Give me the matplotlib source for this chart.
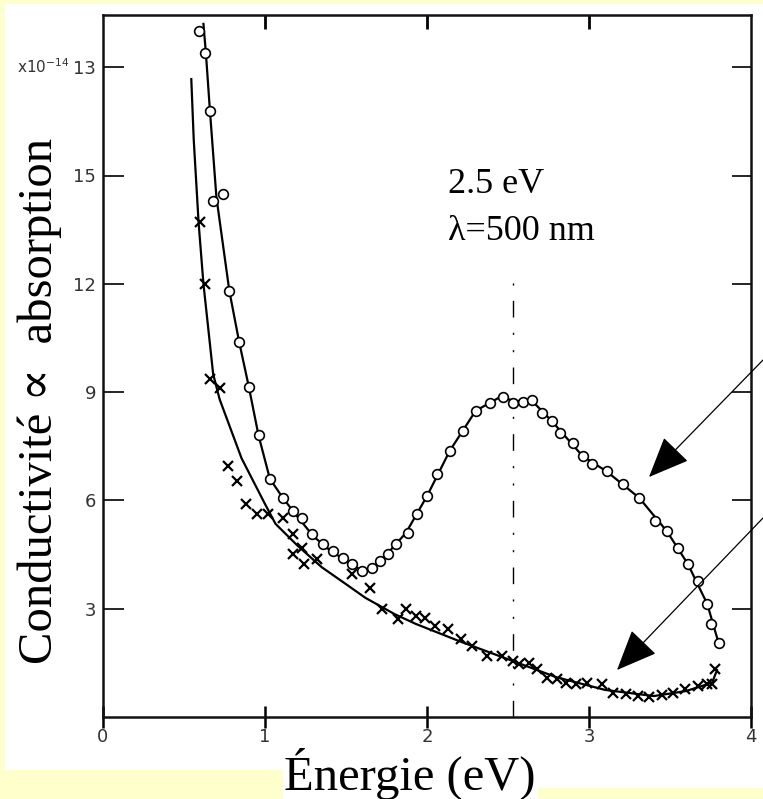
import matplotlib
matplotlib.use("Agg")
import matplotlib.pyplot as plt
from matplotlib.patches import Rectangle, FancyArrowPatch

# ---------------- data ----------------
# open-circle series (markers)
circ_x = [0.59, 0.63, 0.66, 0.68, 0.74, 0.78, 0.84, 0.90, 0.96, 1.03, 1.11, 1.17, 1.23,
          1.29, 1.36, 1.42, 1.48, 1.54, 1.60, 1.66, 1.71, 1.76, 1.81, 1.88, 1.94, 2.00,
          2.06, 2.14, 2.22, 2.30, 2.39, 2.47, 2.53, 2.59, 2.65, 2.71, 2.77, 2.82, 2.90,
          2.96, 3.02, 3.11, 3.21, 3.31, 3.41, 3.48, 3.55, 3.61, 3.67, 3.73, 3.75, 3.80]
circ_y = [19.0, 18.4, 16.8, 14.3, 14.5, 11.8, 10.4, 9.15, 7.8, 6.6, 6.07, 5.71, 5.51,
          5.07, 4.79, 4.60, 4.40, 4.24, 4.04, 4.13, 4.32, 4.52, 4.79, 5.10, 5.62, 6.12,
          6.73, 7.37, 7.92, 8.48, 8.70, 8.86, 8.70, 8.73, 8.78, 8.42, 8.20, 7.87, 7.59,
          7.23, 7.01, 6.81, 6.45, 6.07, 5.43, 5.15, 4.68, 4.24, 3.77, 3.13, 2.58, 2.05]
# guide curve drawn through the circles
circ_curve_x = [0.62, 0.635, 0.66, 0.70, 0.78, 0.84, 0.90, 0.96, 1.03, 1.11, 1.20, 1.30,
                1.40, 1.50, 1.60, 1.66, 1.75, 1.87, 2.00, 2.14, 2.30, 2.45, 2.55, 2.65,
                2.77, 2.96, 3.11, 3.31, 3.48, 3.61, 3.73, 3.80]
circ_curve_y = [19.2, 18.4, 16.8, 14.4, 11.8, 10.4, 9.15, 7.8, 6.6, 6.07, 5.55, 5.0,
                4.62, 4.33, 4.05, 4.1, 4.5, 5.1, 6.12, 7.37, 8.48, 8.86, 8.75, 8.75,
                8.2, 7.23, 6.8, 6.07, 5.15, 4.24, 3.13, 2.05]

# cross series (markers)
cross_x = [0.60, 0.63, 0.66, 0.72, 0.77, 0.83, 0.88, 0.95, 1.02, 1.11, 1.17, 1.23, 1.17,
           1.24, 1.32, 1.54, 1.65, 1.72, 1.82, 1.87, 1.93, 1.99, 2.05, 2.13, 2.21, 2.28,
           2.37, 2.46, 2.53, 2.57, 2.63, 2.68, 2.74, 2.80, 2.86, 2.92, 2.99, 3.08, 3.15,
           3.23, 3.30, 3.37, 3.45, 3.52, 3.59, 3.67, 3.73, 3.76, 3.78]
cross_y = [13.7, 12.0, 9.36, 9.11, 6.95, 6.54, 5.90, 5.62, 5.62, 5.51, 5.07, 4.68, 4.52,
           4.24, 4.38, 3.96, 3.57, 2.99, 2.71, 2.99, 2.80, 2.74, 2.52, 2.44, 2.16, 1.97,
           1.69, 1.69, 1.55, 1.47, 1.50, 1.33, 1.08, 1.05, 0.94, 0.91, 0.94, 0.91, 0.66,
           0.64, 0.58, 0.55, 0.61, 0.66, 0.78, 0.86, 0.91, 0.91, 1.33]
# guide curve drawn through the crosses
cross_curve_x = [0.545, 0.56, 0.59, 0.62, 0.68, 0.72, 0.855, 1.0, 1.065, 1.2, 1.35, 1.50,
                 1.62, 1.80, 1.93, 2.20, 2.50, 2.80, 3.10, 3.40, 3.60, 3.76, 3.79]
cross_curve_y = [17.67, 16.0, 13.7, 12.0, 9.5, 8.8, 7.17, 5.9, 5.35, 4.75, 4.15, 3.68,
                 3.30, 2.85, 2.58, 2.10, 1.60, 1.10, 0.75, 0.58, 0.72, 0.95, 1.30]

xticks = [0, 1, 2, 3, 4]
xtick_labels = ["0", "1", "2", "3", "4"]
yticks = [3, 6, 9, 12, 15, 18]
ytick_labels = ["3", "6", "9", "12", "15", "13"]
peak_energy = 2.53
peak_line_top = 12.3

# ---------------- figure ----------------
W, H = 763, 799
fig = plt.figure(figsize=(W / 100, H / 100), dpi=100)
fig.patch.set_facecolor("#FFFFCC")


def fig_rect(x0, y0, x1, y1, color="white"):
    fig.patches.append(Rectangle((x0 / W, 1 - y1 / H), (x1 - x0) / W, (y1 - y0) / H,
                                 transform=fig.transFigure, facecolor=color,
                                 edgecolor="none", zorder=-10))


fig_rect(5, 4, 763, 770)
fig_rect(283, 769, 763, 788)
fig_rect(283, 787, 538, 799)

ax_l, ax_r, ax_t, ax_b = 103, 751, 15, 717
ax = fig.add_axes([ax_l / W, 1 - ax_b / H, (ax_r - ax_l) / W, (ax_b - ax_t) / H])
ax.set_facecolor("none")
ax.set_xlim(0, 4)
ax.set_ylim(0, (ax_b - ax_t) / 36.1)

for s in ax.spines.values():
    s.set_linewidth(1.8)
    s.set_color("#111111")

# curves and markers
ax.plot(circ_curve_x, circ_curve_y, color="black", lw=1.6, zorder=3, clip_on=False)
ax.plot(circ_x, circ_y, ls="none", marker="o", ms=7, mfc="white", mec="black",
        mew=1.2, zorder=4, clip_on=False)
ax.plot(cross_curve_x, cross_curve_y, color="black", lw=1.6, zorder=3)
ax.plot(cross_x, cross_y, ls="none", marker="x", ms=6.5, mec="black", mew=1.6, zorder=4)

# dash-dot marker line at the peak
ax.plot([peak_energy, peak_energy], [0, peak_line_top], color="black", lw=1.0,
        dashes=[12, 11, 1.5, 11, 1.5, 11], zorder=2)

# ticks
tick_font = dict(family="DejaVu Sans", size=13, color="#333333")
ax.set_xticks(xticks)
ax.set_xticklabels(xtick_labels, **tick_font)
ax.set_yticks(yticks)
ax.set_yticklabels(ytick_labels, **tick_font)
ax.tick_params(axis="x", direction="inout", length=16, width=1.8, pad=0)
ax.tick_params(axis="y", direction="in", length=15, width=1.2, pad=5)

sec_top = ax.secondary_xaxis("top")
sec_top.set_xticks([1, 2, 3])
sec_top.set_xticklabels([])
sec_top.tick_params(direction="in", length=10, width=2)
sec_top.spines["top"].set_visible(False)

sec_right = ax.secondary_yaxis("right")
sec_right.set_yticks(yticks)
sec_right.set_yticklabels([])
sec_right.tick_params(direction="in", length=14, width=1.2)
sec_right.spines["right"].set_visible(False)

fig.text(69 / W, 1 - 67 / H, "x10$^{-14}$", ha="right", va="center", fontsize=11,
         color="#333333", family="DejaVu Sans")

serif = ["Liberation Serif", "DejaVu Serif"]
ax.text(2.13, 14.76, "2.5 eV", fontsize=26, family=serif, ha="left", va="center",
        transform=ax.transData)
ax.text(2.13, 13.46, "λ=500 nm", fontsize=26, family=serif, ha="left", va="center",
        transform=ax.transData)

fig.text(40 / W, 1 - 401 / H, "Conductivité \u221d  absorption", rotation=90,
         fontsize=35, family=serif, ha="center", va="center")
fig.text(410 / W, 1 - 774 / H, "Énergie (eV)", fontsize=35, family=serif,
         ha="center", va="center")

# annotation arrows coming from the right edge
arrow_kw = dict(arrowstyle="-|>,head_length=1.3,head_width=0.55", color="black",
                lw=0.9, shrinkA=0, shrinkB=0)
fig.add_artist(FancyArrowPatch(
    (763 / W, 1 - 360 / H), (649 / W, 1 - 477 / H), transform=fig.transFigure,
    mutation_scale=20, **arrow_kw))
fig.add_artist(FancyArrowPatch(
    (763 / W, 1 - 518 / H), (617 / W, 1 - 670 / H), transform=fig.transFigure,
    mutation_scale=20, **arrow_kw))

fig.savefig("out.png", dpi=100, facecolor=fig.get_facecolor())
